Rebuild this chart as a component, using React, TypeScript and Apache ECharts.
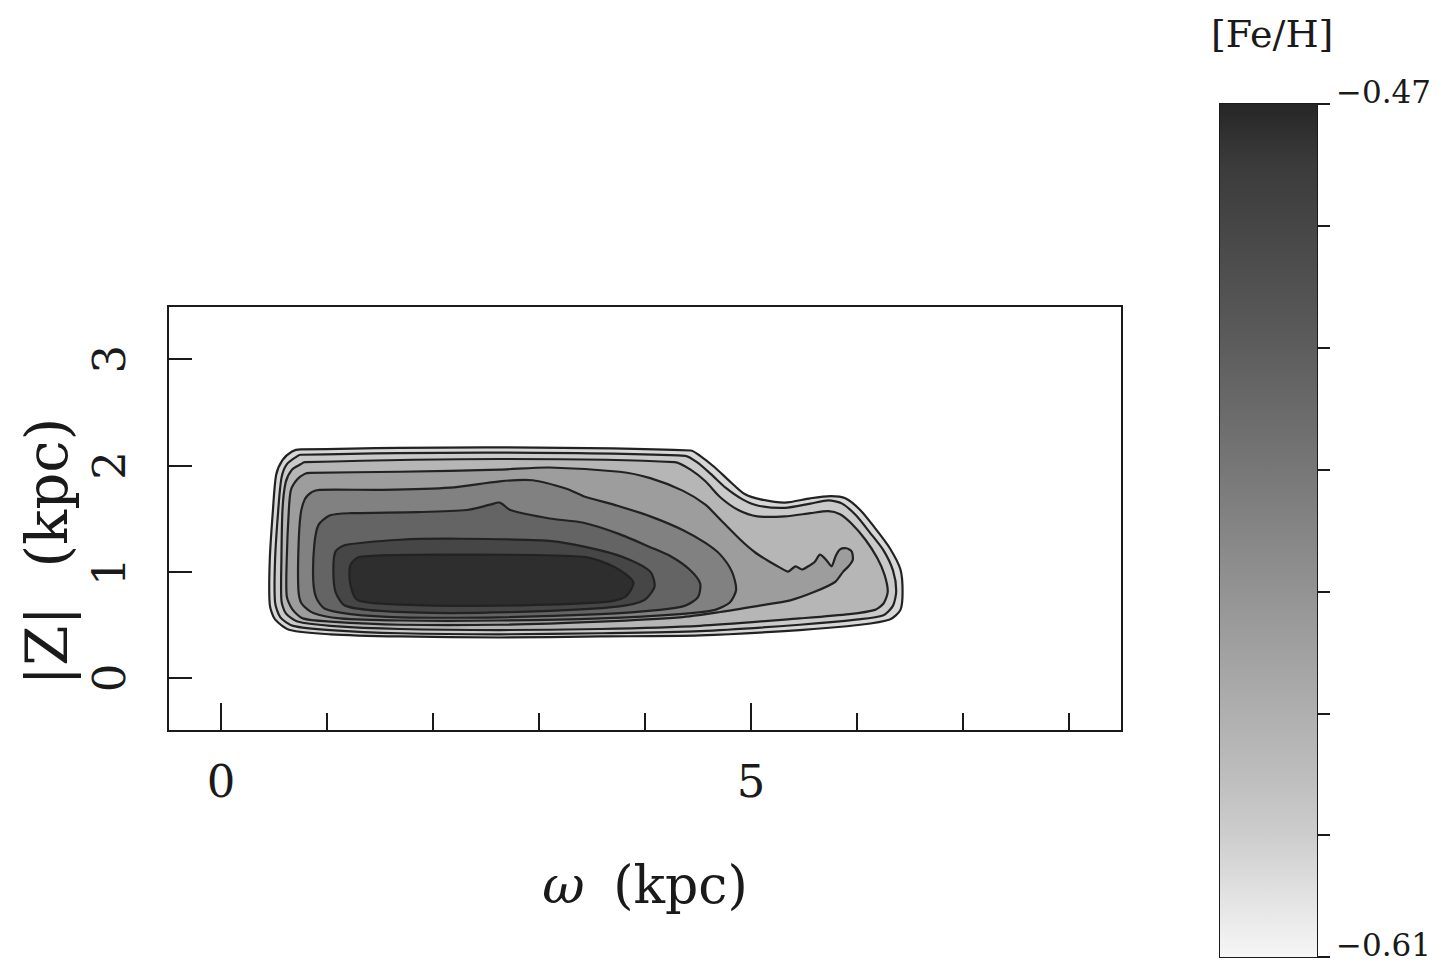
import React, { useEffect, useRef } from "react";
import * as echarts from "echarts";

const FONT = "'DejaVu Serif', 'Liberation Serif', serif";

// axis ticks / labels
const xTicksMinor = [1, 2, 3, 4, 6, 7, 8];
const xTicksMajor = [0, 5];
const yTicks = [0, 1, 2, 3];
const cbTicks = [-0.61, -0.59, -0.57, -0.55, -0.53, -0.51, -0.49, -0.47];
const cbLabels = [-0.61, -0.47];
const fehMin = -0.61;
const fehMax = -0.47;

// grey scale from [Fe/H] = -0.61 (light) to -0.47 (dark), one step per 0.01
const grayScale = [
  "#f6f6f6", "#e2e2e2", "#cdcdcd", "#bdbdbd", "#afafaf",
  "#a1a1a1", "#939393", "#858585", "#777777", "#6a6a6a",
  "#5d5d5d", "#515151", "#464646", "#3b3b3b", "#262626",
];

// contour levels ([Fe/H]) from the outermost to the innermost contour
const contourLevels = [-0.595, -0.588, -0.575, -0.557, -0.537, -0.515, -0.49, -0.474];

// contours: [omega (kpc), |Z| (kpc)]
const contour1 = [
  [0.75, 2.15], [2.63, 2.17], [4.43, 2.14], [4.52, 2.09], [4.66, 1.98], [4.8, 1.85],
  [4.94, 1.73], [5.09, 1.68], [5.32, 1.65], [5.56, 1.69], [5.75, 1.71], [5.89, 1.69],
  [6.03, 1.58], [6.17, 1.41], [6.31, 1.22], [6.41, 1.02], [6.43, 0.81], [6.41, 0.64],
  [6.31, 0.55], [6.03, 0.5], [5.46, 0.45], [4.52, 0.4], [3.58, 0.39], [2.63, 0.38],
  [1.69, 0.39], [1.03, 0.41], [0.65, 0.45], [0.51, 0.55], [0.46, 0.69], [0.46, 1.11],
  [0.49, 1.58], [0.52, 1.91], [0.58, 2.05], [0.67, 2.13],
];
const contour2 = [
  [0.75, 2.1], [2.63, 2.12], [4.38, 2.09], [4.49, 2.03], [4.62, 1.92], [4.76, 1.79],
  [4.92, 1.68], [5.07, 1.62], [5.32, 1.6], [5.56, 1.64], [5.73, 1.67], [5.86, 1.64],
  [5.99, 1.53], [6.12, 1.37], [6.25, 1.2], [6.34, 1.01], [6.37, 0.82], [6.34, 0.68],
  [6.25, 0.59], [6.01, 0.55], [5.46, 0.5], [4.52, 0.44], [3.58, 0.42], [2.63, 0.41],
  [1.69, 0.42], [1.03, 0.45], [0.68, 0.49], [0.56, 0.57], [0.51, 0.71], [0.51, 1.11],
  [0.54, 1.58], [0.57, 1.88], [0.62, 2.01], [0.71, 2.08],
];
const contour3 = [
  [0.79, 2.03], [2.63, 2.06], [4.28, 2.03], [4.43, 1.96], [4.57, 1.85], [4.71, 1.7],
  [4.88, 1.58], [5.06, 1.52], [5.32, 1.52], [5.56, 1.55], [5.73, 1.57], [5.84, 1.54],
  [5.95, 1.45], [6.08, 1.3], [6.19, 1.13], [6.26, 0.97], [6.29, 0.81], [6.25, 0.7],
  [6.17, 0.64], [5.93, 0.6], [5.46, 0.56], [4.52, 0.49], [3.58, 0.46], [2.63, 0.45],
  [1.69, 0.46], [1.03, 0.49], [0.72, 0.53], [0.61, 0.61], [0.57, 0.73], [0.57, 1.11],
  [0.58, 1.58], [0.61, 1.84], [0.67, 1.96], [0.75, 2.01],
];
const contour4 = [
  [0.84, 1.93], [1.69, 1.94], [2.63, 1.96], [3.1, 1.98], [3.76, 1.94], [4.05, 1.88],
  [4.36, 1.76], [4.57, 1.63], [4.71, 1.49], [4.9, 1.3], [5.04, 1.18], [5.18, 1.09],
  [5.27, 1.04], [5.35, 1.0], [5.42, 1.05], [5.48, 1.02], [5.54, 1.05], [5.6, 1.09],
  [5.65, 1.16], [5.71, 1.11], [5.76, 1.05], [5.8, 1.15], [5.84, 1.21], [5.9, 1.22],
  [5.95, 1.19], [5.96, 1.11], [5.92, 1.05], [5.87, 1.0], [5.79, 0.9], [5.6, 0.81],
  [5.37, 0.73], [5.08, 0.68], [4.71, 0.62], [4.33, 0.57], [3.58, 0.53], [2.63, 0.5],
  [1.69, 0.5], [1.03, 0.53], [0.77, 0.56], [0.67, 0.65], [0.62, 0.77], [0.62, 1.11],
  [0.64, 1.58], [0.66, 1.77], [0.72, 1.87], [0.79, 1.92],
];
const contour5 = [
  [0.93, 1.77], [1.53, 1.77], [2.16, 1.79], [2.63, 1.85], [2.94, 1.86], [3.26, 1.78],
  [3.42, 1.71], [3.74, 1.62], [4.05, 1.52], [4.36, 1.39], [4.57, 1.27], [4.71, 1.16],
  [4.82, 1.0], [4.86, 0.83], [4.8, 0.71], [4.66, 0.64], [4.33, 0.6], [3.58, 0.56],
  [2.63, 0.54], [1.69, 0.54], [1.12, 0.56], [0.87, 0.61], [0.76, 0.7], [0.73, 0.83],
  [0.73, 1.2], [0.75, 1.53], [0.79, 1.68], [0.86, 1.75],
];
const contour6 = [
  [1.03, 1.53], [1.22, 1.55], [1.85, 1.56], [2.32, 1.58], [2.54, 1.63], [2.63, 1.65],
  [2.73, 1.58], [3.1, 1.5], [3.42, 1.46], [3.74, 1.36], [4.05, 1.23], [4.25, 1.14],
  [4.42, 1.02], [4.52, 0.89], [4.5, 0.76], [4.38, 0.68], [4.14, 0.64], [3.58, 0.6],
  [2.63, 0.57], [1.69, 0.57], [1.22, 0.6], [0.98, 0.65], [0.9, 0.75], [0.87, 0.92],
  [0.88, 1.25], [0.92, 1.44],
];
const contour7 = [
  [1.17, 1.25], [1.69, 1.3], [2.16, 1.31], [3.1, 1.29], [3.58, 1.2], [3.86, 1.11],
  [4.05, 1.0], [4.09, 0.86], [3.99, 0.73], [3.74, 0.67], [3.1, 0.63], [2.16, 0.61],
  [1.5, 0.63], [1.17, 0.68], [1.08, 0.81], [1.06, 1.02], [1.08, 1.19],
];
const contour8 = [
  [1.31, 1.14], [2.16, 1.16], [3.42, 1.14], [3.72, 1.04], [3.89, 0.9], [3.81, 0.76],
  [3.58, 0.71], [2.63, 0.68], [1.69, 0.69], [1.29, 0.73], [1.22, 0.88], [1.22, 1.06],
];

const contours = [contour1, contour2, contour3, contour4, contour5, contour6, contour7, contour8];

const fmtFeh = (v: number) => (v < 0 ? "\u2212" : "") + Math.abs(v).toFixed(2);

export default function App() {
  const ref = useRef<HTMLDivElement>(null);

  useEffect(() => {
    if (!ref.current) return;
    const chart = echarts.init(ref.current, null, { renderer: "svg" });
    const ink = "#1a1a1a";

    const gradStops = grayScale
      .map((c, i) => ({ offset: 1 - i / (grayScale.length - 1), color: c }))
      .reverse();

    const option: any = {
      animation: false,
      backgroundColor: "#ffffff",
      graphic: [
        {
          type: "text",
          left: 1211,
          top: 15,
          style: { text: "[Fe/H]", fontSize: 38, fontFamily: FONT, fill: ink },
        },
      ],
      visualMap: {
        type: "continuous",
        show: false,
        min: fehMin,
        max: fehMax,
        dimension: 1,
        seriesIndex: 0,
        inRange: { color: grayScale },
      },
      grid: [
        {
          left: 168,
          top: 306,
          width: 954,
          height: 425,
          show: true,
          borderColor: ink,
          borderWidth: 2,
          backgroundColor: "transparent",
        },
        {
          left: 1220,
          top: 104,
          width: 97,
          height: 853,
          show: true,
          borderColor: ink,
          borderWidth: 2,
          backgroundColor: "transparent",
        },
      ],
      xAxis: [
        {
          gridIndex: 0,
          type: "value",
          min: -0.5,
          max: 8.5,
          position: "bottom",
          axisLine: { show: false, onZero: false },
          axisTick: {
            show: true,
            inside: true,
            length: 18,
            customValues: xTicksMinor,
            lineStyle: { color: ink, width: 2 },
          },
          axisLabel: { show: false },
          splitLine: { show: false },
        },
        {
          gridIndex: 0,
          type: "value",
          min: -0.5,
          max: 8.5,
          position: "bottom",
          axisLine: { show: false, onZero: false },
          axisTick: {
            show: true,
            inside: true,
            length: 28,
            customValues: xTicksMajor,
            lineStyle: { color: ink, width: 2 },
          },
          axisLabel: {
            show: true,
            customValues: xTicksMajor,
            fontSize: 45,
            fontFamily: FONT,
            color: ink,
            margin: 28,
          },
          splitLine: { show: false },
          name: "{w|\u03c9} (kpc)",
          nameLocation: "middle",
          nameGap: 128,
          nameTextStyle: {
            fontSize: 52,
            fontFamily: FONT,
            color: ink,
            rich: {
              w: { fontSize: 52, fontFamily: FONT, fontStyle: "italic", color: ink, padding: [0, 12, 0, 0] },
            },
          },
        },
        {
          gridIndex: 1,
          type: "value",
          min: 0,
          max: 1,
          show: false,
        },
      ],
      yAxis: [
        {
          gridIndex: 0,
          type: "value",
          min: -0.5,
          max: 3.5,
          position: "left",
          axisLine: { show: false, onZero: false },
          axisTick: {
            show: true,
            inside: true,
            length: 24,
            customValues: yTicks,
            lineStyle: { color: ink, width: 2 },
          },
          axisLabel: {
            show: true,
            customValues: yTicks,
            rotate: 90,
            fontSize: 45,
            fontFamily: FONT,
            color: ink,
            margin: 36,
          },
          splitLine: { show: false },
          name: "{z||Z|} {k|(kpc)}",
          nameLocation: "middle",
          nameGap: 92,
          nameRotate: 90,
          nameTextStyle: {
            fontSize: 58,
            fontFamily: FONT,
            color: ink,
            rich: {
              z: { fontSize: 58, fontFamily: FONT, color: ink, padding: [0, 20, 0, 0] },
              k: { fontSize: 58, fontFamily: FONT, color: ink, padding: [0, 66, 0, 0] },
            },
          },
        },
        {
          gridIndex: 1,
          type: "value",
          min: fehMin,
          max: fehMax,
          position: "right",
          axisLine: { show: false, onZero: false },
          axisTick: {
            show: true,
            inside: false,
            length: 13,
            customValues: cbTicks,
            lineStyle: { color: ink, width: 2 },
          },
          axisLabel: {
            show: true,
            customValues: cbLabels,
            formatter: (v: number) => fmtFeh(v),
            fontSize: 31,
            fontFamily: FONT,
            color: ink,
            margin: 19,
            verticalAlign: "bottom",
            lineHeight: 24,
          },
          splitLine: { show: false },
        },
      ],
      series: [
        {
          type: "custom",
          xAxisIndex: 0,
          yAxisIndex: 0,
          data: contourLevels.map((lv, i) => [i, lv]),
          encode: { x: 0, y: 1 },
          clip: true,
          renderItem: (params: any, api: any) => {
            const pts = contours[params.dataIndex].map((p) => api.coord(p));
            return {
              type: "polygon",
              shape: { points: pts, smooth: 0.25 },
              style: { fill: api.visual("color"), stroke: "#222", lineWidth: 2.2 },
            };
          },
        },
        {
          type: "custom",
          xAxisIndex: 2,
          yAxisIndex: 1,
          data: [[0, fehMin, 1, fehMax]],
          encode: { x: 0, y: 1 },
          renderItem: (params: any, api: any) => {
            const p0 = api.coord([0, fehMax]);
            const p1 = api.coord([1, fehMin]);
            return {
              type: "rect",
              shape: { x: p0[0], y: p0[1], width: p1[0] - p0[0], height: p1[1] - p0[1] },
              style: {
                fill: new echarts.graphic.LinearGradient(0, 0, 0, 1, gradStops),
              },
            };
          },
        },
      ],
    };

    chart.setOption(option);
    return () => chart.dispose();
  }, []);

  return (
    <div
      ref={ref}
      style={{ position: "fixed", left: 0, top: 0, width: 1443, height: 966, background: "#fff" }}
    />
  );
}
